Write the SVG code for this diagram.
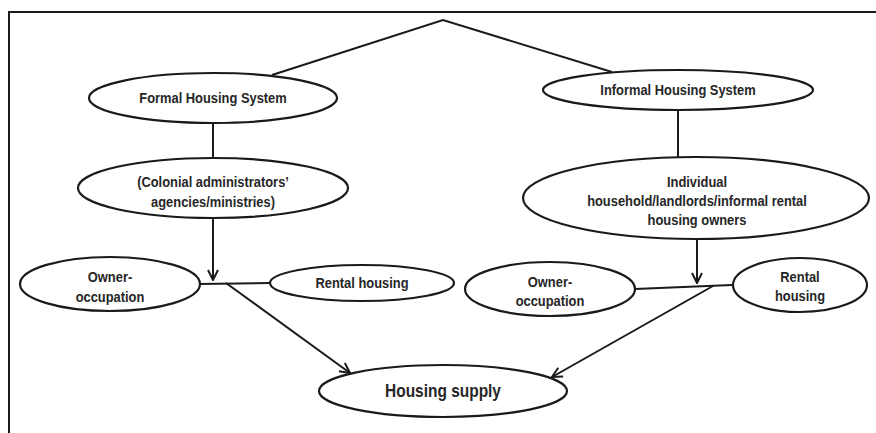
<svg xmlns="http://www.w3.org/2000/svg" width="876" height="433" viewBox="0 0 876 433">
<style>
.n{fill:#fff;stroke:#1a1a1a;stroke-width:2.2}
.t{font-family:"Liberation Sans",Arial,sans-serif;font-weight:bold;font-size:15px;fill:#262626;text-anchor:middle}
.big{font-size:18px}
.c{stroke:#1a1a1a;stroke-width:2;fill:none}
</style>
<defs>
<marker id="ah" viewBox="0 0 12 12" refX="11" refY="6" markerWidth="12" markerHeight="12" markerUnits="userSpaceOnUse" orient="auto">
<path d="M1,1 L11,6 L1,11" fill="none" stroke="#1a1a1a" stroke-width="2"/>
</marker>
</defs>
<g id="frame"><path class="c" d="M9,433 L9,12 L876,12"/></g>
<g id="connectors">
<path class="c" d="M272,75 L443,20 L612,72"/>
<path class="c" d="M213,123 L213,158"/>
<path class="c" d="M678,110 L678,157"/>
<path class="c" d="M213,218 L213,280" marker-end="url(#ah)"/>
<path class="c" d="M199,284 L270,283"/>
<path class="c" d="M226,283 L350,373" marker-end="url(#ah)"/>
<path class="c" d="M697,239 L697,283" marker-end="url(#ah)"/>
<path class="c" d="M635,289 L732,285"/>
<path class="c" d="M713,286 L552,377" marker-end="url(#ah)"/>
</g>
<g id="formal"><ellipse class="n" cx="213" cy="98" rx="124" ry="25"/><text class="t" transform="translate(213,103) scale(0.86,1)">Formal Housing System</text></g>
<g id="informal"><ellipse class="n" cx="678" cy="90" rx="135" ry="20"/><text class="t" transform="translate(678,95) scale(0.86,1)">Informal Housing System</text></g>
<g id="colonial"><ellipse class="n" cx="213" cy="188" rx="135" ry="30"/><text class="t" transform="translate(213,187) scale(0.86,1)">(Colonial administrators’</text><text class="t" transform="translate(213,207) scale(0.86,1)">agencies/ministries)</text></g>
<g id="individual"><ellipse class="n" cx="696" cy="198" rx="173" ry="41"/><text class="t" transform="translate(697,187) scale(0.86,1)">Individual</text><text class="t" transform="translate(697,206) scale(0.86,1)">household/landlords/informal rental</text><text class="t" transform="translate(697,225) scale(0.86,1)">housing owners</text></g>
<g id="owner1"><ellipse class="n" cx="110" cy="284" rx="90" ry="27"/><text class="t" transform="translate(110,282) scale(0.86,1)">Owner-</text><text class="t" transform="translate(110,302) scale(0.86,1)">occupation</text></g>
<g id="rental1"><ellipse class="n" cx="362" cy="283" rx="92" ry="18"/><text class="t" transform="translate(362,288) scale(0.86,1)">Rental housing</text></g>
<g id="owner2"><ellipse class="n" cx="550" cy="289" rx="85" ry="27"/><text class="t" transform="translate(550,287) scale(0.86,1)">Owner-</text><text class="t" transform="translate(550,306) scale(0.86,1)">occupation</text></g>
<g id="rental2"><ellipse class="n" cx="800" cy="285" rx="67" ry="27"/><text class="t" transform="translate(800,282) scale(0.86,1)">Rental</text><text class="t" transform="translate(800,301) scale(0.86,1)">housing</text></g>
<g id="supply"><ellipse class="n" cx="443" cy="391" rx="124" ry="26"/><text class="t big" transform="translate(443,397) scale(0.86,1)">Housing supply</text></g>
</svg>
